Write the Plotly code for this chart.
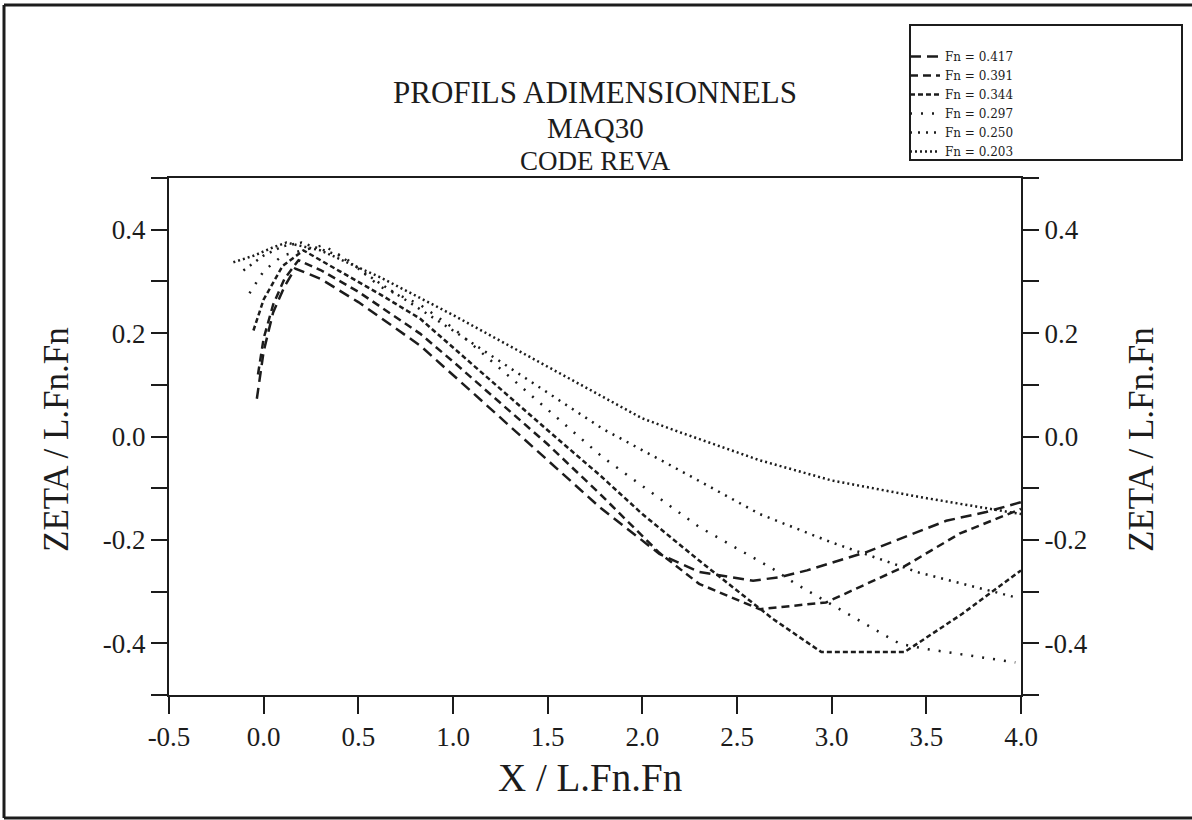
import plotly.graph_objects as go

# ---- data ----
fn_labels = ["Fn = 0.417", "Fn = 0.391", "Fn = 0.344", "Fn = 0.297", "Fn = 0.250", "Fn = 0.203"]

x_417 = [-0.036, 0.0, 0.05, 0.11, 0.166, 0.3, 0.5, 0.826, 1.0, 1.5, 1.776, 2.09, 2.3, 2.585, 2.725, 2.87, 3.18, 3.605, 3.816, 4.0]
y_417 = [0.073, 0.165, 0.24, 0.29, 0.325, 0.305, 0.26, 0.176, 0.119, -0.046, -0.137, -0.227, -0.262, -0.279, -0.272, -0.259, -0.224, -0.163, -0.146, -0.127]

x_391 = [-0.03, 0.0, 0.05, 0.11, 0.184, 0.3, 0.5, 0.826, 1.0, 1.5, 1.776, 2.09, 2.3, 2.62, 2.97, 3.376, 3.675, 4.0]
y_391 = [0.12, 0.19, 0.255, 0.305, 0.341, 0.322, 0.28, 0.199, 0.145, -0.015, -0.111, -0.225, -0.285, -0.334, -0.321, -0.253, -0.188, -0.14]

x_344 = [-0.054, 0.0, 0.1, 0.21, 0.4, 0.615, 0.826, 1.0, 1.5, 1.776, 2.0, 2.3, 2.69, 2.946, 3.385, 3.69, 4.0]
y_344 = [0.205, 0.265, 0.33, 0.36, 0.32, 0.275, 0.228, 0.172, 0.012, -0.075, -0.15, -0.24, -0.353, -0.417, -0.417, -0.343, -0.259]

x_297 = [-0.075, 0.0, 0.1, 0.314, 0.45, 0.615, 0.826, 1.0, 1.5, 1.79, 2.3, 2.69, 2.81, 3.13, 3.36, 3.5, 3.97]
y_297 = [0.277, 0.32, 0.35, 0.37, 0.34, 0.29, 0.255, 0.21, 0.052, -0.04, -0.175, -0.256, -0.285, -0.353, -0.401, -0.411, -0.437]

x_250 = [-0.107, 0.0, 0.1, 0.2, 0.4, 0.615, 1.0, 1.5, 1.79, 2.2, 2.62, 3.0, 3.46, 3.97]
y_250 = [0.321, 0.35, 0.368, 0.375, 0.35, 0.296, 0.205, 0.085, 0.015, -0.066, -0.15, -0.205, -0.263, -0.311]

x_203 = [-0.16, -0.05, 0.05, 0.12, 0.3, 0.615, 1.0, 1.5, 1.776, 2.0, 2.2, 2.62, 3.0, 3.464, 4.0]
y_203 = [0.337, 0.35, 0.366, 0.375, 0.36, 0.308, 0.235, 0.135, 0.079, 0.035, 0.008, -0.046, -0.085, -0.117, -0.15]

x_tickvals = [-0.5, 0.0, 0.5, 1.0, 1.5, 2.0, 2.5, 3.0, 3.5, 4.0]
x_ticktext = ["-0.5", "0.0", "0.5", "1.0", "1.5", "2.0", "2.5", "3.0", "3.5", "4.0"]
y_tickvals = [-0.5, -0.4, -0.3, -0.2, -0.1, 0.0, 0.1, 0.2, 0.3, 0.4, 0.5]
y_ticktext = ["", "-0.4", "", "-0.2", "", "0.0", "", "0.2", "", "0.4", ""]

series_x = [x_417, x_391, x_344, x_297, x_250, x_203]
series_y = [y_417, y_391, y_344, y_297, y_250, y_203]
dashes = ["11px,6px", "8px,5px", "5px,3px", "2px,9px", "2px,6px", "2px,3px"]

INK = "#1c1c1c"
FONT = "Liberation Serif"

fig = go.Figure()
for name, xs, ys, d in zip(fn_labels, series_x, series_y, dashes):
    fig.add_trace(go.Scatter(x=xs, y=ys, name=name, mode="lines",
                             line=dict(color=INK, width=2.5, dash=d)))
# invisible trace so the right-hand (mirrored) y axis gets drawn with its labels
fig.add_trace(go.Scatter(x=x_417, y=y_417, yaxis="y2", mode="lines", opacity=0,
                         showlegend=False, hoverinfo="skip", line=dict(width=0.1)))

# plot area in pixels: left 169, right 1021, top 178, bottom 695
L, R, T, B = 169, 1021, 178, 695
W, H = R - L, B - T
def px(xp):
    return (xp - L) / W
def py(yp):
    return (B - yp) / H

axis_common = dict(showline=True, linecolor=INK, linewidth=2, ticks="outside",
                   tickcolor=INK, tickwidth=2, showgrid=False, zeroline=False,
                   tickfont=dict(family=FONT, size=27, color=INK))

fig.update_layout(
    width=1192, height=820,
    paper_bgcolor="white", plot_bgcolor="white",
    margin=dict(l=L, r=1192 - R, t=T, b=820 - B, autoexpand=False),
    showlegend=True,
    legend=dict(x=px(905), y=py(42), xanchor="left", yanchor="top",
                bgcolor="rgba(0,0,0,0)", borderwidth=0,
                font=dict(family="DejaVu Serif", size=12, color=INK)),
    xaxis=dict(range=[-0.5, 4.0], tickvals=x_tickvals, ticktext=x_ticktext,
               ticklen=17, mirror=True, **axis_common),
    yaxis=dict(range=[-0.5, 0.5], tickvals=y_tickvals, ticktext=y_ticktext,
               ticklen=16, **axis_common),
    yaxis2=dict(range=[-0.5, 0.5], tickvals=y_tickvals, ticktext=y_ticktext,
                ticklen=16, overlaying="y", side="right", **axis_common),
)

def note(text, xp, yp, size, angle=0):
    fig.add_annotation(text=text, x=px(xp), y=py(yp), xref="paper", yref="paper",
                       xanchor="center", yanchor="middle", textangle=angle,
                       showarrow=False, font=dict(family=FONT, size=size, color=INK))

# titles
note("PROFILS ADIMENSIONNELS", 595, 92, 31)
note("MAQ30", 595, 128, 29)
note("CODE REVA", 595, 161, 27)
note("X / L.Fn.Fn", 590, 777, 39)
note("ZETA / L.Fn.Fn", 56, 440, 35, -90)
note("ZETA / L.Fn.Fn", 1141, 440, 35, -90)

# legend box and outer frame
fig.add_shape(type="rect", xref="paper", yref="paper", x0=px(910), x1=px(1182),
              y0=py(160), y1=py(25), line=dict(color=INK, width=2))
fig.add_shape(type="line", xref="paper", yref="paper", x0=px(4), x1=px(4), y0=py(5), y1=py(818),
              line=dict(color=INK, width=3))
fig.add_shape(type="line", xref="paper", yref="paper", x0=px(4), x1=px(1192), y0=py(5), y1=py(5),
              line=dict(color=INK, width=3))
fig.add_shape(type="line", xref="paper", yref="paper", x0=px(4), x1=px(1192), y0=py(818), y1=py(818),
              line=dict(color=INK, width=3))

fig.write_html("out.html", config={"displayModeBar": False},
               post_script="document.body.style.margin='0';document.body.style.overflow='hidden';")
